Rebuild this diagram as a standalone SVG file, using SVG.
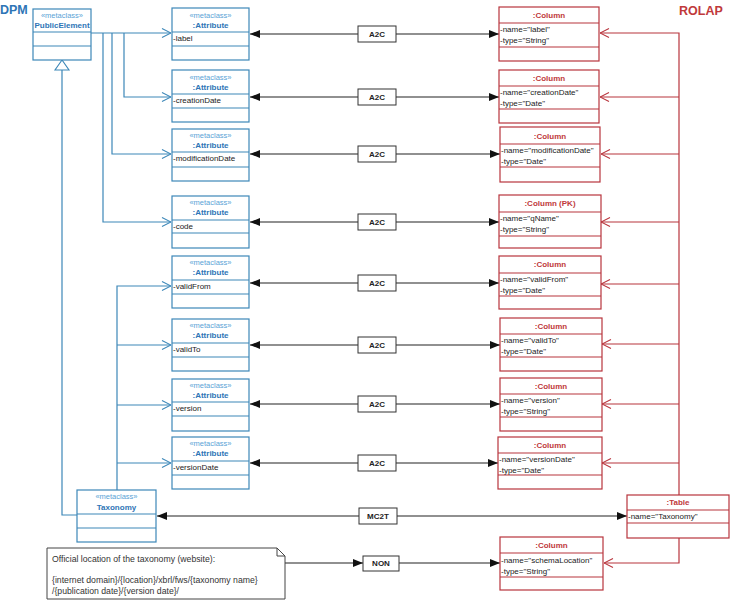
<svg xmlns="http://www.w3.org/2000/svg" width="730" height="600" viewBox="0 0 730 600">
<style>
text{font-family:"Liberation Sans","Open Sans",Arial,sans-serif;font-size:8px;fill:#222}
.title{font-size:12.5px;font-weight:bold}
.bbox{fill:#fff;stroke:#3C87B8;stroke-width:1.2}
.rbox{fill:#fff;stroke:#B8343C;stroke-width:1.2}
.bl{stroke:#3C87B8;stroke-width:1.2}
.rl{stroke:#B8343C;stroke-width:1.2}
.st{fill:#5AA3D6;font-size:7.5px;text-anchor:middle}
.bn{fill:#2E75B6;font-weight:bold;text-anchor:middle}
.rn{fill:#C0393B;font-weight:bold;text-anchor:middle}
.lbl{fill:#fff;stroke:#333;stroke-width:1}
.lt{font-weight:bold;text-anchor:middle;fill:#222}
.bk{fill:none;stroke:#222;stroke-width:1.2}
.bp{fill:none;stroke:#3C87B8;stroke-width:1.2}
.rp{fill:none;stroke:#B8343C;stroke-width:1.2}
.nt{fill:#333;font-size:8.7px}
</style>
<defs>
<marker id="fa" viewBox="0 0 10 8" refX="10" refY="4" markerWidth="10" markerHeight="8" markerUnits="userSpaceOnUse" orient="auto-start-reverse"><path d="M0,0 L10,4 L0,8 Z" fill="#111"/></marker>
<marker id="ob" viewBox="0 0 10 10" refX="10" refY="5" markerWidth="10" markerHeight="10" markerUnits="userSpaceOnUse" orient="auto"><path d="M1,0.5 L10,5 L1,9.5" fill="none" stroke="#3C87B8" stroke-width="1.1"/></marker>
<marker id="or" viewBox="0 0 10 10" refX="10" refY="5" markerWidth="10" markerHeight="10" markerUnits="userSpaceOnUse" orient="auto"><path d="M1,0.5 L10,5 L1,9.5" fill="none" stroke="#B8343C" stroke-width="1.1"/></marker>
</defs>
<text class="title" x="0" y="14" style="fill:#2E75B6">DPM</text>
<text class="title" x="679" y="15" style="fill:#C0393B">ROLAP</text>

<g id="connectors">
<path class="bp" d="M91,33 H171" marker-end="url(#ob)"/>
<path class="bp" d="M124,33 V97 H171" marker-end="url(#ob)"/>
<path class="bp" d="M112,33 V154 H171" marker-end="url(#ob)"/>
<path class="bp" d="M103,33 V222 H171" marker-end="url(#ob)"/>
<path class="bp" d="M117,490 V286 H171" marker-end="url(#ob)"/>
<path class="bp" d="M117,345 H171" marker-end="url(#ob)"/>
<path class="bp" d="M117,405 H171" marker-end="url(#ob)"/>
<path class="bp" d="M117,463 H171" marker-end="url(#ob)"/>
<path class="bp" d="M77,515 H62 V70"/>
<polygon points="62,60 55,70 69,70" fill="#fff" stroke="#3C87B8" stroke-width="1.1"/>
<path class="rp" d="M679,495 V33 H600" marker-end="url(#or)"/>
<path class="rp" d="M679,97 H600" marker-end="url(#or)"/>
<path class="rp" d="M679,154 H601" marker-end="url(#or)"/>
<path class="rp" d="M679,222 H601" marker-end="url(#or)"/>
<path class="rp" d="M679,284 H601" marker-end="url(#or)"/>
<path class="rp" d="M679,344 H602" marker-end="url(#or)"/>
<path class="rp" d="M679,404 H602" marker-end="url(#or)"/>
<path class="rp" d="M679,463 H602" marker-end="url(#or)"/>
<path class="rp" d="M679,538 V563 H604" marker-end="url(#or)"/>
<path class="bk" d="M250,34 H499" marker-start="url(#fa)" marker-end="url(#fa)"/>
<path class="bk" d="M250,97 H499" marker-start="url(#fa)" marker-end="url(#fa)"/>
<path class="bk" d="M250,154 H500" marker-start="url(#fa)" marker-end="url(#fa)"/>
<path class="bk" d="M250,222 H499" marker-start="url(#fa)" marker-end="url(#fa)"/>
<path class="bk" d="M250,283 H499" marker-start="url(#fa)" marker-end="url(#fa)"/>
<path class="bk" d="M250,345 H500" marker-start="url(#fa)" marker-end="url(#fa)"/>
<path class="bk" d="M250,404 H500" marker-start="url(#fa)" marker-end="url(#fa)"/>
<path class="bk" d="M250,463 H498" marker-start="url(#fa)" marker-end="url(#fa)"/>
<path class="bk" d="M157,516 H627" marker-start="url(#fa)" marker-end="url(#fa)"/>
<path class="bk" d="M285,563 H363" marker-end="url(#fa)"/>
<path class="bk" d="M399,563 H500" marker-end="url(#fa)"/>
<g>
<rect class="lbl" x="358" y="26" width="38" height="16"/><text class="lt" x="377" y="37">A2C</text>
<rect class="lbl" x="358" y="89" width="38" height="16"/><text class="lt" x="377" y="100">A2C</text>
<rect class="lbl" x="358" y="146" width="38" height="16"/><text class="lt" x="377" y="157">A2C</text>
<rect class="lbl" x="358" y="214" width="38" height="16"/><text class="lt" x="377" y="225">A2C</text>
<rect class="lbl" x="358" y="275" width="38" height="16"/><text class="lt" x="377" y="286">A2C</text>
<rect class="lbl" x="358" y="337" width="38" height="16"/><text class="lt" x="377" y="348">A2C</text>
<rect class="lbl" x="358" y="396" width="38" height="16"/><text class="lt" x="377" y="407">A2C</text>
<rect class="lbl" x="358" y="455" width="38" height="16"/><text class="lt" x="377" y="466">A2C</text>
<rect class="lbl" x="359" y="508" width="38" height="16"/><text class="lt" x="378" y="519">MC2T</text>
<rect class="lbl" x="363" y="556" width="36" height="15"/><text class="lt" x="381" y="566">NON</text>
</g>
</g>

<g id="PublicElement">
<rect class="bbox" x="33" y="9" width="58" height="51"/>
<line class="bl" x1="33" y1="32" x2="91" y2="32"/><line class="bl" x1="33" y1="46" x2="91" y2="46"/>
<text class="st" x="62" y="18">«metaclass»</text><text class="bn" x="62" y="28">PublicElement</text>
</g>
<g id="Taxonomy">
<rect class="bbox" x="77" y="490" width="79" height="52"/>
<line class="bl" x1="77" y1="514" x2="156" y2="514"/><line class="bl" x1="77" y1="528" x2="156" y2="528"/>
<text class="st" x="116.5" y="499">«metaclass»</text><text class="bn" x="116.5" y="510">Taxonomy</text>
</g>

<g id="attr-label"><rect class="bbox" x="172" y="8" width="77" height="52"/><line class="bl" x1="172" y1="32" x2="249" y2="32"/><line class="bl" x1="172" y1="46" x2="249" y2="46"/><text class="st" x="210.5" y="18">«metaclass»</text><text class="bn" x="210.5" y="28">:Attribute</text><text x="173" y="41">-label</text></g>
<g id="attr-creationDate"><rect class="bbox" x="172" y="70" width="77" height="52"/><line class="bl" x1="172" y1="94" x2="249" y2="94"/><line class="bl" x1="172" y1="108" x2="249" y2="108"/><text class="st" x="210.5" y="80">«metaclass»</text><text class="bn" x="210.5" y="90">:Attribute</text><text x="173" y="103">-creationDate</text></g>
<g id="attr-modificationDate"><rect class="bbox" x="172" y="129" width="77" height="52"/><line class="bl" x1="172" y1="152" x2="249" y2="152"/><line class="bl" x1="172" y1="167" x2="249" y2="167"/><text class="st" x="210.5" y="138">«metaclass»</text><text class="bn" x="210.5" y="148">:Attribute</text><text x="173" y="161">-modificationDate</text></g>
<g id="attr-code"><rect class="bbox" x="172" y="196" width="77" height="52"/><line class="bl" x1="172" y1="220" x2="249" y2="220"/><line class="bl" x1="172" y1="233" x2="249" y2="233"/><text class="st" x="210.5" y="205">«metaclass»</text><text class="bn" x="210.5" y="215">:Attribute</text><text x="173" y="229">-code</text></g>
<g id="attr-validFrom"><rect class="bbox" x="172" y="256" width="77" height="52"/><line class="bl" x1="172" y1="280" x2="249" y2="280"/><line class="bl" x1="172" y1="294" x2="249" y2="294"/><text class="st" x="210.5" y="265">«metaclass»</text><text class="bn" x="210.5" y="275">:Attribute</text><text x="173" y="289">-validFrom</text></g>
<g id="attr-validTo"><rect class="bbox" x="172" y="319" width="77" height="52"/><line class="bl" x1="172" y1="343" x2="249" y2="343"/><line class="bl" x1="172" y1="357" x2="249" y2="357"/><text class="st" x="210.5" y="328">«metaclass»</text><text class="bn" x="210.5" y="338">:Attribute</text><text x="173" y="352">-validTo</text></g>
<g id="attr-version"><rect class="bbox" x="172" y="379" width="77" height="52"/><line class="bl" x1="172" y1="402" x2="249" y2="402"/><line class="bl" x1="172" y1="416" x2="249" y2="416"/><text class="st" x="210.5" y="388">«metaclass»</text><text class="bn" x="210.5" y="398">:Attribute</text><text x="173" y="411">-version</text></g>
<g id="attr-versionDate"><rect class="bbox" x="172" y="437" width="77" height="52"/><line class="bl" x1="172" y1="461" x2="249" y2="461"/><line class="bl" x1="172" y1="475" x2="249" y2="475"/><text class="st" x="210.5" y="446">«metaclass»</text><text class="bn" x="210.5" y="456">:Attribute</text><text x="173" y="470">-versionDate</text></g>

<g id="col-label"><rect class="rbox" x="499" y="7" width="100" height="54"/><line class="rl" x1="499" y1="23" x2="599" y2="23"/><line class="rl" x1="499" y1="47" x2="599" y2="47"/><text class="rn" x="549" y="18">:Column</text><text x="500" y="32">-name="label"</text><text x="500" y="43">-type="String"</text></g>
<g id="col-creationDate"><rect class="rbox" x="499" y="70" width="100" height="53"/><line class="rl" x1="499" y1="86" x2="599" y2="86"/><line class="rl" x1="499" y1="109" x2="599" y2="109"/><text class="rn" x="549" y="81">:Column</text><text x="500" y="95">-name="creationDate"</text><text x="500" y="106">-type="Date"</text></g>
<g id="col-modificationDate"><rect class="rbox" x="500" y="127" width="100" height="55"/><line class="rl" x1="500" y1="144" x2="600" y2="144"/><line class="rl" x1="500" y1="167" x2="600" y2="167"/><text class="rn" x="550" y="139">:Column</text><text x="501" y="153">-name="modificationDate"</text><text x="501" y="164">-type="Date"</text></g>
<g id="col-qName"><rect class="rbox" x="499" y="195" width="102" height="53"/><line class="rl" x1="499" y1="212" x2="601" y2="212"/><line class="rl" x1="499" y1="236" x2="601" y2="236"/><text class="rn" x="550" y="206">:Column (PK)</text><text x="500" y="221">-name="qName"</text><text x="500" y="232">-type="String"</text></g>
<g id="col-validFrom"><rect class="rbox" x="499" y="256" width="102" height="53"/><line class="rl" x1="499" y1="273" x2="601" y2="273"/><line class="rl" x1="499" y1="296" x2="601" y2="296"/><text class="rn" x="550" y="267">:Column</text><text x="500" y="282">-name="validFrom"</text><text x="500" y="293">-type="Date"</text></g>
<g id="col-validTo"><rect class="rbox" x="500" y="318" width="102" height="53"/><line class="rl" x1="500" y1="334" x2="602" y2="334"/><line class="rl" x1="500" y1="357" x2="602" y2="357"/><text class="rn" x="551" y="329">:Column</text><text x="501" y="343">-name="validTo"</text><text x="501" y="354">-type="Date"</text></g>
<g id="col-version"><rect class="rbox" x="500" y="378" width="102" height="53"/><line class="rl" x1="500" y1="394" x2="602" y2="394"/><line class="rl" x1="500" y1="417" x2="602" y2="417"/><text class="rn" x="551" y="389">:Column</text><text x="501" y="403">-name="version"</text><text x="501" y="414">-type="String"</text></g>
<g id="col-versionDate"><rect class="rbox" x="498" y="437" width="104" height="52"/><line class="rl" x1="498" y1="453" x2="602" y2="453"/><line class="rl" x1="498" y1="475" x2="602" y2="475"/><text class="rn" x="550" y="448">:Column</text><text x="499" y="462">-name="versionDate"</text><text x="499" y="473">-type="Date"</text></g>
<g id="col-schemaLocation"><rect class="rbox" x="500" y="537" width="103" height="53"/><line class="rl" x1="500" y1="553" x2="603" y2="553"/><line class="rl" x1="500" y1="577" x2="603" y2="577"/><text class="rn" x="551.5" y="548">:Column</text><text x="501" y="563">-name="schemaLocation"</text><text x="501" y="574">-type="String"</text></g>
<g id="table-Taxonomy"><rect class="rbox" x="627" y="495" width="102" height="43"/><line class="rl" x1="627" y1="510" x2="729" y2="510"/><line class="rl" x1="627" y1="523" x2="729" y2="523"/><text class="rn" x="678" y="505">:Table</text><text x="628" y="519">-name="Taxonomy"</text></g>

<g id="note">
<path d="M47,548 H277 L285,556 V599 H47 Z" fill="#fff" stroke="#444" stroke-width="1"/>
<path d="M277,548 V556 H285" fill="none" stroke="#444" stroke-width="1"/>
<text class="nt" x="52" y="562">Official location of the taxonomy (website):</text>
<text class="nt" x="52" y="583">{internet domain}/{location}/xbrl/fws/{taxonomy name}</text>
<text class="nt" x="52" y="594">/{publication date}/{version date}/</text>
</g>
</svg>
